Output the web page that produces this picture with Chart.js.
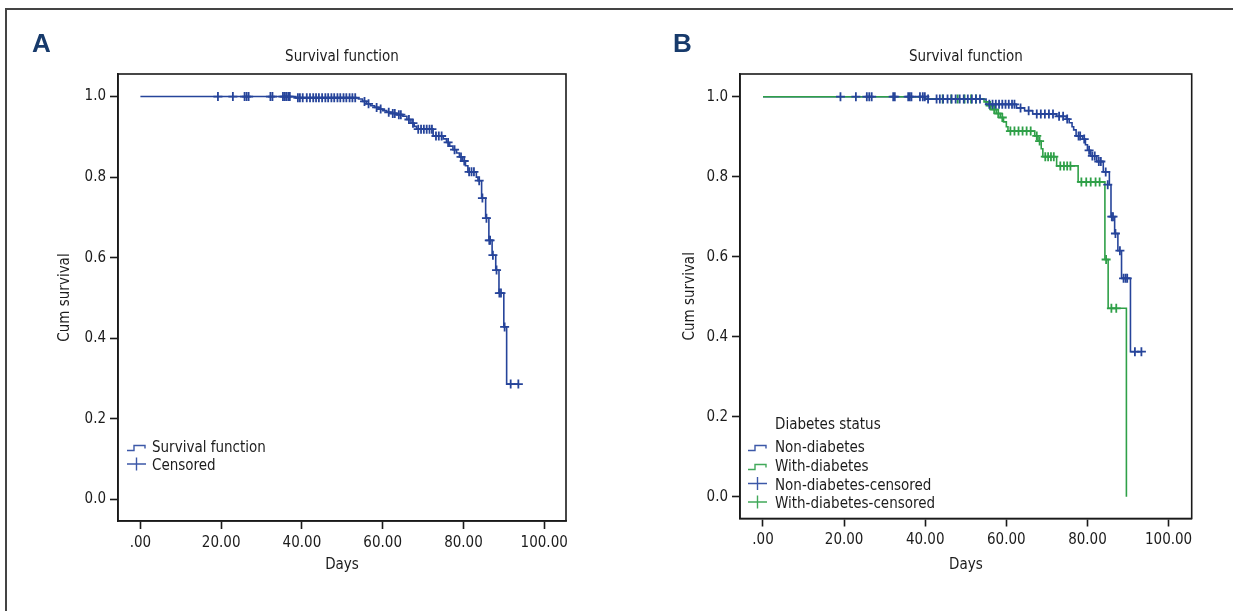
<!DOCTYPE html>
<html><head><meta charset="utf-8">
<script src="https://cdn.jsdelivr.net/npm/chart.js@4.4.1/dist/chart.umd.min.js"></script>
<style>
html,body{margin:0;padding:0;background:#fff;}
body{width:1233px;height:611px;position:relative;overflow:hidden;}
#frame{position:absolute;left:5px;top:8px;width:1300px;height:700px;border-top:2px solid #444;border-left:2px solid #444;}
canvas{position:absolute;top:0;}
#cA{left:0;} #cB{left:620px;}
</style></head><body>
<div id="frame"></div>
<canvas id="cA" width="620" height="611"></canvas>
<canvas id="cB" width="613" height="611"></canvas>
<script>
// ---------- tick labels ----------
const xTickValues = [0, 20, 40, 60, 80, 100];
const xTickLabels = ['.00', '20.00', '40.00', '60.00', '80.00', '100.00'];
const yTickValues = [0, 0.2, 0.4, 0.6, 0.8, 1.0];
const yTickLabels = ['0.0', '0.2', '0.4', '0.6', '0.8', '1.0'];

// ---------- Panel A: overall survival ----------
const survDaysA = [0, 38.5, 54, 55, 56, 57, 58, 59, 60, 61, 62, 63.5, 65, 66, 67, 67.8, 68.4, 72.5, 75, 75.8, 76.6, 77.4, 78.3, 79, 79.8, 80.5, 81.1, 83.2, 83.6, 84.5, 85.5, 86.3, 87.1, 88.0, 88.8, 90.0, 90.7, 93.6];
const survValsA = [1.0, 0.997, 0.994, 0.988, 0.982, 0.977, 0.973, 0.969, 0.965, 0.961, 0.958, 0.955, 0.951, 0.943, 0.934, 0.926, 0.919, 0.902, 0.895, 0.886, 0.877, 0.868, 0.860, 0.850, 0.840, 0.828, 0.813, 0.800, 0.791, 0.748, 0.698, 0.643, 0.606, 0.569, 0.512, 0.428, 0.286, 0.286];
const censDaysA = [19.2, 22.9, 25.8, 26.3, 26.8, 32.2, 32.7, 35.3, 35.7, 36.1, 36.6, 37.0, 39.0, 39.5, 40.2, 41.2, 42.0, 42.8, 43.5, 44.2, 45.0, 45.8, 46.5, 47.3, 48.0, 48.8, 49.5, 50.3, 51.0, 51.8, 52.5, 53.2, 55.5, 56.5, 58.5, 59.5, 61.5, 62.5, 63.0, 64.0, 64.5, 66.5, 67.5, 68.8, 69.5, 70.2, 70.9, 71.6, 72.2, 73.2, 73.9, 74.6, 76.2, 77.8, 79.4, 80.2, 81.4, 82.0, 82.6, 83.9, 84.7, 85.7, 86.4, 86.6, 87.3, 88.2, 88.9, 89.3, 90.2, 91.7, 93.6];
const censValsA = [1, 1, 1, 1, 1, 1, 1, 1, 1, 1, 1, 1, 0.997, 0.997, 0.997, 0.997, 0.997, 0.997, 0.997, 0.997, 0.997, 0.997, 0.997, 0.997, 0.997, 0.997, 0.997, 0.997, 0.997, 0.997, 0.997, 0.997, 0.988, 0.982, 0.973, 0.969, 0.961, 0.958, 0.958, 0.955, 0.955, 0.943, 0.934, 0.919, 0.919, 0.919, 0.919, 0.919, 0.919, 0.902, 0.902, 0.902, 0.886, 0.868, 0.850, 0.840, 0.813, 0.813, 0.813, 0.791, 0.748, 0.698, 0.643, 0.643, 0.606, 0.569, 0.512, 0.512, 0.428, 0.286, 0.286];

// ---------- Panel B: by diabetes status ----------
const nonDays = [0, 40, 55, 62.5, 64.5, 66.5, 72.4, 74.8, 75.5, 76.2, 76.6, 77.2, 78.8, 79.5, 80.0, 80.8, 82.3, 83.9, 85.4, 85.8, 86.7, 87.5, 88.4, 90.6, 93.3];
const nonSurv = [1.0, 0.994, 0.981, 0.972, 0.965, 0.957, 0.951, 0.944, 0.935, 0.925, 0.917, 0.902, 0.894, 0.880, 0.866, 0.852, 0.838, 0.812, 0.780, 0.700, 0.658, 0.615, 0.546, 0.3625, 0.3625];
const nonCensDays = [19.1, 22.9, 25.6, 26.2, 26.8, 32.1, 32.5, 35.8, 36.2, 36.6, 38.7, 39.4, 39.9, 40.7, 42.8, 43.6, 44.4, 45.5, 46.5, 47.5, 48.5, 49.5, 50.5, 51.5, 52.5, 53.5, 55.8, 56.6, 57.4, 58.2, 59.0, 59.8, 60.6, 61.4, 62.0, 63.5, 65.5, 67.5, 68.5, 69.5, 70.5, 71.5, 73.0, 74.0, 75.0, 77.8, 78.2, 79.2, 80.4, 81.2, 81.8, 82.8, 83.3, 84.5, 85.0, 86.0, 86.3, 86.9, 88.0, 88.9, 89.4, 89.8, 91.7, 93.3];
const nonCensSurv = [1, 1, 1, 1, 1, 1, 1, 1, 1, 1, 1, 1, 1, 0.994, 0.994, 0.994, 0.994, 0.994, 0.994, 0.994, 0.994, 0.994, 0.994, 0.994, 0.994, 0.994, 0.981, 0.981, 0.981, 0.981, 0.981, 0.981, 0.981, 0.981, 0.981, 0.972, 0.965, 0.957, 0.957, 0.957, 0.957, 0.957, 0.951, 0.951, 0.944, 0.902, 0.902, 0.894, 0.866, 0.852, 0.852, 0.838, 0.838, 0.812, 0.780, 0.700, 0.700, 0.658, 0.615, 0.546, 0.546, 0.546, 0.3625, 0.3625];
const withDays = [0, 40, 54.5, 55.5, 56.5, 57.5, 58.5, 59.3, 60.0, 60.4, 67.0, 67.8, 68.6, 69.0, 72.4, 77.7, 84.3, 85.1, 89.6];
const withSurv = [1.0, 0.994, 0.987, 0.978, 0.968, 0.958, 0.948, 0.937, 0.925, 0.914, 0.902, 0.889, 0.870, 0.850, 0.827, 0.787, 0.593, 0.471, 0.0];
const withCensDays = [44.3, 46.4, 48.0, 49.7, 51.3, 52.5, 56.0, 57.0, 58.0, 59.0, 61.0, 62.0, 63.0, 64.0, 65.0, 66.0, 67.5, 68.2, 69.6, 70.3, 71.0, 71.7, 73.3, 74.2, 75.0, 75.8, 78.5, 79.7, 80.8, 82.0, 83.0, 84.6, 85.9, 87.1];
const withCensSurv = [0.994, 0.994, 0.994, 0.994, 0.994, 0.994, 0.978, 0.968, 0.958, 0.948, 0.914, 0.914, 0.914, 0.914, 0.914, 0.914, 0.902, 0.889, 0.850, 0.850, 0.850, 0.850, 0.827, 0.827, 0.827, 0.827, 0.787, 0.787, 0.787, 0.787, 0.787, 0.593, 0.471, 0.471];

// ---------- styling ----------
const FONT = "'Liberation Sans Narrow', 'DejaVu Sans Condensed', 'Arial Narrow', sans-serif";
const FS = 15;
const BOLD = "'Liberation Sans', Arial, sans-serif";
const TXT = '#1c1c1c';
const BLUE = '#26449a';
const GREEN = '#2fa048';
const BLUE_L = '#3c58a8';
const GREEN_L = '#41a95a';

function pts(xs, ys) { return xs.map((x, i) => ({x: x, y: ys[i]})); }

function stepSet(xs, ys, color, order) {
  return {type: 'line', data: pts(xs, ys), borderColor: color, borderWidth: 1.6, stepped: 'before',
    pointRadius: 0, fill: false, order: order};
}
function censSet(xs, ys, color, order) {
  return {type: 'scatter', data: pts(xs, ys), borderColor: color, backgroundColor: color, showLine: false,
    pointStyle: 'cross', pointRadius: 4.5, pointBorderWidth: 1.8, order: order};
}

function drawStep(ctx, x, base, color) {
  ctx.save(); ctx.strokeStyle = color; ctx.lineWidth = 1.4; ctx.beginPath();
  ctx.moveTo(x, base - 1.5); ctx.lineTo(x + 7, base - 1.5); ctx.lineTo(x + 7, base - 6.5);
  ctx.lineTo(x + 18, base - 6.5); ctx.lineTo(x + 18, base - 3.5); ctx.stroke(); ctx.restore();
}
function drawCross(ctx, x, base, color) {
  ctx.save(); ctx.strokeStyle = color; ctx.lineWidth = 1.4; ctx.beginPath();
  ctx.moveTo(x, base - 6); ctx.lineTo(x + 19, base - 6);
  ctx.moveTo(x + 9.5, base - 12.5); ctx.lineTo(x + 9.5, base + 0.5); ctx.stroke(); ctx.restore();
}

function decor(cfg) {
  return {
    id: 'decor',
    afterDraw(chart) {
      const ctx = chart.ctx, a = chart.chartArea;
      ctx.save();
      ctx.strokeStyle = '#1a1a1a'; ctx.lineWidth = 1.6;
      ctx.strokeRect(a.left, a.top, a.right - a.left, a.bottom - a.top);
      // panel letter
      ctx.fillStyle = '#173a6b'; ctx.font = 'bold 26px ' + BOLD; ctx.textBaseline = 'alphabetic'; ctx.textAlign = 'left';
      ctx.fillText(cfg.letter, cfg.letterX, 52);
      // legend
      ctx.fillStyle = TXT; ctx.font = FS + 'px ' + FONT;
      if (cfg.legendTitle) ctx.fillText(cfg.legendTitle, cfg.textX, cfg.titleBase);
      cfg.items.forEach((it, i) => {
        const b = cfg.bases[i];
        if (it.kind === 'step') drawStep(ctx, cfg.symX, b, it.color); else drawCross(ctx, cfg.symX, b, it.color);
        ctx.fillStyle = TXT; ctx.fillText(it.label, cfg.textX, b);
      });
      ctx.restore();
    }
  };
}

function makeOptions(yWidth, xHeight, padRight, yTitlePad, xr, yr) {
  const font = {family: FONT, size: FS};
  return {
    responsive: false, animation: false, devicePixelRatio: 1,
    layout: {padding: {left: 0, right: padRight, top: 0, bottom: 0}},
    plugins: {
      legend: {display: false}, tooltip: {enabled: false},
      title: {display: true, text: 'Survival function', fullSize: false, color: TXT, font: {family: FONT, size: FS, weight: 'normal'},
        padding: {top: 48, bottom: 8}}
    },
    scales: {
      x: {type: 'linear', min: xr[0], max: xr[1],
        afterBuildTicks: s => { s.ticks = xTickValues.map(v => ({value: v})); },
        afterFit: s => { s.height = xHeight; },
        ticks: {callback: (v, i) => xTickLabels[i], color: TXT, font: font, padding: 5, maxRotation: 0, autoSkip: false},
        grid: {drawOnChartArea: false, drawTicks: true, tickLength: 8, tickColor: '#1a1a1a', tickWidth: 1.6},
        border: {display: true, color: '#1a1a1a', width: 1.6},
        title: {display: true, text: 'Days', color: TXT, font: font, padding: {top: 0, bottom: 37}}
      },
      y: {type: 'linear', min: yr[0], max: yr[1],
        afterBuildTicks: s => { s.ticks = yTickValues.map(v => ({value: v})); },
        afterFit: s => { s.width = yWidth; },
        ticks: {callback: (v, i) => yTickLabels[i], color: TXT, font: font, padding: 4, autoSkip: false},
        grid: {drawOnChartArea: false, drawTicks: true, tickLength: 8, tickColor: '#1a1a1a', tickWidth: 1.6},
        border: {display: true, color: '#1a1a1a', width: 1.6},
        title: {display: true, text: 'Cum survival', color: TXT, font: font, padding: {top: yTitlePad, bottom: 0}}
      }
    }
  };
}

new Chart(document.getElementById('cA'), {
  data: {datasets: [
    censSet(censDaysA, censValsA, BLUE, 0),
    stepSet(survDaysA, survValsA, BLUE, 1)
  ]},
  options: makeOptions(118, 90, 54, 56, [-5.55, 105.4], [-0.054, 1.056]),
  plugins: [decor({letter: 'A', letterX: 32, symX: 127, textX: 152, bases: [452, 470],
    items: [{kind: 'step', color: BLUE_L, label: 'Survival function'}, {kind: 'cross', color: BLUE_L, label: 'Censored'}]})]
});

new Chart(document.getElementById('cB'), {
  data: {datasets: [
    censSet(nonCensDays, nonCensSurv, BLUE, 0),
    censSet(withCensDays, withCensSurv, GREEN, 1),
    stepSet(withDays, withSurv, GREEN, 2),
    stepSet(nonDays, nonSurv, BLUE, 3)
  ]},
  options: makeOptions(120, 92.5, 41.3, 61, [-5.67, 105.7], [-0.0545, 1.0567]),
  plugins: [decor({letter: 'B', letterX: 53, symX: 128, textX: 155, legendTitle: 'Diabetes status', titleBase: 429,
    bases: [452, 471, 489.5, 508],
    items: [{kind: 'step', color: BLUE_L, label: 'Non-diabetes'}, {kind: 'step', color: GREEN_L, label: 'With-diabetes'},
            {kind: 'cross', color: BLUE_L, label: 'Non-diabetes-censored'}, {kind: 'cross', color: GREEN_L, label: 'With-diabetes-censored'}]})]
});
</script>
</body></html>
